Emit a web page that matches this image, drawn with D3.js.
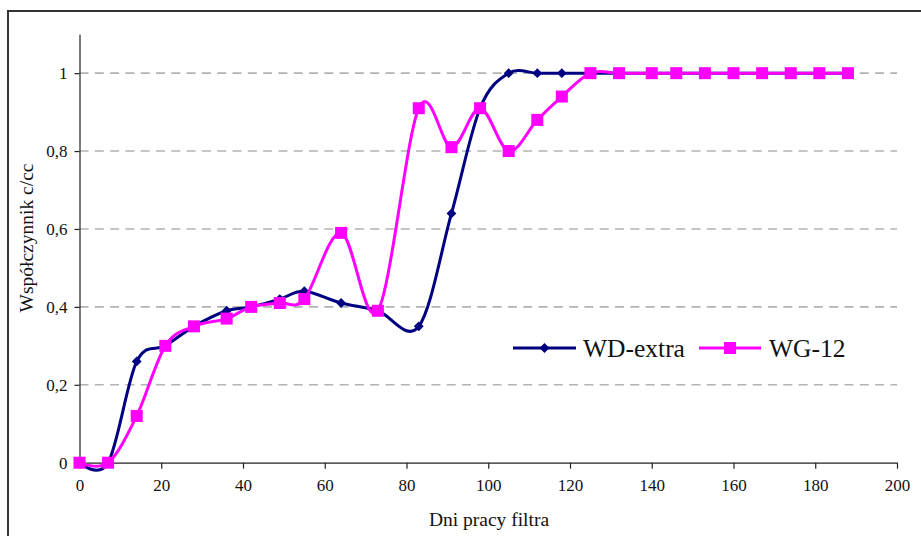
<!DOCTYPE html>
<html>
<head>
<meta charset="utf-8">
<script src="https://cdn.jsdelivr.net/npm/d3@7"></script>
<style>
  html, body { margin: 0; padding: 0; background: #fff; }
  svg { display: block; }
</style>
</head>
<body>
<svg id="chart" width="921" height="536"></svg>
<script>
// Filter breakthrough data: c/co ratio versus days of filter operation
const days = [0, 7, 14, 21, 28, 36, 42, 49, 55, 64, 73, 83, 91, 98, 105, 112, 118, 125, 132, 140, 146, 153, 160, 167, 174, 181, 188];
const wdExtra = [0, 0, 0.26, 0.30, 0.35, 0.39, 0.40, 0.42, 0.44, 0.41, 0.39, 0.35, 0.64, 0.91, 1.0, 1.0, 1.0, 1.0, 1.0, 1.0, 1.0, 1.0, 1.0, 1.0, 1.0, 1.0, 1.0];
const wg12 = [0, 0, 0.12, 0.30, 0.35, 0.37, 0.40, 0.41, 0.42, 0.59, 0.39, 0.91, 0.81, 0.91, 0.80, 0.88, 0.94, 1.0, 1.0, 1.0, 1.0, 1.0, 1.0, 1.0, 1.0, 1.0, 1.0];
const seriesNames = ["WD-extra", "WG-12"];
const xTicks = [0, 20, 40, 60, 80, 100, 120, 140, 160, 180, 200];
const yTicks = [0, 0.2, 0.4, 0.6, 0.8, 1];
const xTitle = "Dni pracy filtra";
const yTitle = "Współczynnik c/cc";

const svg = d3.select("#chart");
const FONT = "'Liberation Serif', 'Times New Roman', serif";

// outer frame
svg.append("rect")
  .attr("x", 8).attr("y", 11)
  .attr("width", 960).attr("height", 600)
  .attr("fill", "none").attr("stroke", "#333").attr("stroke-width", 2);

const x = d3.scaleLinear().domain([0, 200]).range([79.5, 897]);
const y = d3.scaleLinear().domain([0, 1.1]).range([462.7, 34.2]);

// dashed gridlines
svg.append("g").selectAll("line")
  .data(yTicks.filter(v => v > 0))
  .join("line")
  .attr("x1", x(0)).attr("x2", x(200))
  .attr("y1", d => y(d)).attr("y2", d => y(d))
  .attr("stroke", "#b3b3b3").attr("stroke-width", 1.6)
  .attr("stroke-dasharray", "9,6.3");

const fmt = v => String(v).replace(".", ",");

// y axis
const yAxis = svg.append("g")
  .attr("transform", `translate(${x(0)},0)`)
  .call(d3.axisLeft(y).tickValues(yTicks).tickFormat(fmt).tickSizeInner(5).tickSizeOuter(0).tickPadding(7));

// x axis
const xAxis = svg.append("g")
  .attr("transform", `translate(0,${y(0)})`)
  .call(d3.axisBottom(x).tickValues(xTicks).tickFormat(d3.format("d")).tickSizeInner(6).tickSizeOuter(0).tickPadding(10));

[yAxis, xAxis].forEach(g => {
  g.select(".domain").attr("stroke", "#222").attr("stroke-width", 1.2);
  g.selectAll(".tick line").attr("stroke", "#222").attr("stroke-width", 1.2);
  g.selectAll(".tick text")
    .attr("fill", "#111")
    .style("font-family", FONT)
    .style("font-size", "17px");
});

// axis titles
svg.append("text")
  .attr("x", 489).attr("y", 526)
  .attr("text-anchor", "middle")
  .style("font-family", FONT).style("font-size", "19.5px")
  .attr("fill", "#111")
  .text(xTitle);

svg.append("text")
  .attr("transform", "translate(33,238) rotate(-90)")
  .attr("text-anchor", "middle")
  .style("font-family", FONT).style("font-size", "19.5px")
  .attr("fill", "#111")
  .text(yTitle);

const line = d3.line()
  .x(d => x(d[0]))
  .y(d => y(d[1]))
  .curve(d3.curveCardinal.tension(0));

const diamond = d3.symbol().type(d3.symbolDiamond2).size(62);

const series = [
  { name: seriesNames[0], values: wdExtra, color: "#000080", marker: "diamond" },
  { name: seriesNames[1], values: wg12, color: "#ff00ff", marker: "square" }
];

series.forEach(s => {
  const pts = days.map((d, i) => [d, s.values[i]]);
  const g = svg.append("g");
  g.append("path")
    .attr("d", line(pts))
    .attr("fill", "none")
    .attr("stroke", s.color)
    .attr("stroke-width", 3)
    .attr("stroke-linejoin", "round");
  if (s.marker === "diamond") {
    g.selectAll("path.m").data(pts).join("path")
      .attr("class", "m")
      .attr("d", diamond)
      .attr("transform", d => `translate(${x(d[0])},${y(d[1])})`)
      .attr("fill", s.color);
  } else {
    g.selectAll("rect.m").data(pts).join("rect")
      .attr("class", "m")
      .attr("x", d => x(d[0]) - 6).attr("y", d => y(d[1]) - 6)
      .attr("width", 12).attr("height", 12)
      .attr("fill", s.color);
  }
});

// legend
const legendY = 348;
const legendItems = [
  { s: series[0], x1: 513, x2: 576, tx: 583 },
  { s: series[1], x1: 699, x2: 761, tx: 769 }
];
legendItems.forEach(it => {
  const g = svg.append("g");
  g.append("line")
    .attr("x1", it.x1).attr("x2", it.x2)
    .attr("y1", legendY).attr("y2", legendY)
    .attr("stroke", it.s.color).attr("stroke-width", 3);
  const cx = (it.x1 + it.x2) / 2;
  if (it.s.marker === "diamond") {
    g.append("path").attr("d", diamond)
      .attr("transform", `translate(${cx},${legendY})`)
      .attr("fill", it.s.color);
  } else {
    g.append("rect")
      .attr("x", cx - 6).attr("y", legendY - 6)
      .attr("width", 12).attr("height", 12)
      .attr("fill", it.s.color);
  }
  g.append("text")
    .attr("x", it.tx).attr("y", legendY)
    .attr("dy", "0.35em")
    .style("font-family", FONT).style("font-size", "25.5px")
    .attr("fill", "#111")
    .text(it.s.name);
});
</script>
</body>
</html>
